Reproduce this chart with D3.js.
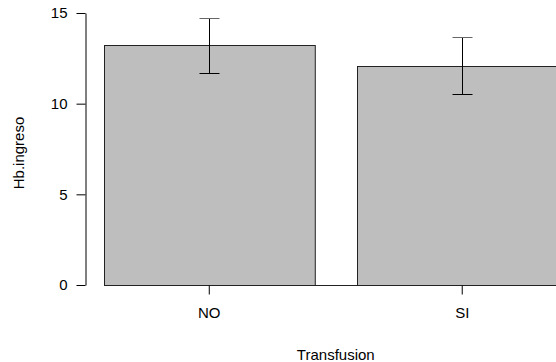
<!DOCTYPE html>
<html>
<head>
<meta charset="utf-8">
<script src="https://cdn.jsdelivr.net/npm/d3@7"></script>
<style>
  html, body { margin: 0; padding: 0; background: #fff; }
  svg { display: block; }
  text { font-family: "Liberation Sans", Arial, Helvetica, sans-serif; fill: #000; }
</style>
</head>
<body>
<svg id="chart" width="556" height="362"></svg>
<script>
// Mean Hb at admission by transfusion group, with error bars
const categories = ["NO", "SI"];
const means = [13.22, 12.10];
const lower = [11.69, 10.52];
const upper = [14.74, 13.70];
const yTicks = [0, 5, 10, 15];
const xTitle = "Transfusion";
const yTitle = "Hb.ingreso";

const W = 556, H = 362;
const plot = { left: 85.5, right: 586, top: 13, bottom: 285 };
const fontSize = 15;

const svg = d3.select("#chart");

const x = d3.scaleBand()
  .domain(categories)
  .range([plot.left, plot.right])
  .paddingInner(0.1667)
  .paddingOuter(0.0727);

const y = d3.scaleLinear()
  .domain([0, 15])
  .range([plot.bottom, plot.top]);

const data = categories.map((c, i) => ({ cat: c, mean: means[i], lo: lower[i], hi: upper[i] }));

// bars
svg.append("g")
  .selectAll("rect")
  .data(data)
  .join("rect")
  .attr("x", d => Math.round(x(d.cat)) + 0.5)
  .attr("y", d => Math.round(y(d.mean)) + 0.5)
  .attr("width", x.bandwidth())
  .attr("height", d => Math.round(y(0)) - Math.round(y(d.mean)))
  .attr("fill", "#bebebe")
  .attr("stroke", "#222")
  .attr("stroke-width", 1);

// baseline under the bars
svg.append("line")
  .attr("x1", Math.round(x(categories[0])) + 0.5)
  .attr("x2", plot.right)
  .attr("y1", Math.round(y(0)) + 0.5)
  .attr("y2", Math.round(y(0)) + 0.5)
  .attr("stroke", "#222");

// error bars
const eb = svg.append("g").attr("stroke", "#000").attr("stroke-width", 1);
data.forEach(d => {
  const cx = Math.round(x(d.cat) + x.bandwidth() / 2) + 0.5;
  const yHi = Math.round(y(d.hi)) + 0.5;
  const yLo = Math.round(y(d.lo)) + 0.5;
  eb.append("line").attr("x1", cx).attr("x2", cx).attr("y1", yHi).attr("y2", yLo);
  eb.append("line").attr("x1", cx - 10).attr("x2", cx + 10).attr("y1", yHi).attr("y2", yHi).attr("stroke", "#666");
  eb.append("line").attr("x1", cx - 10).attr("x2", cx + 10).attr("y1", yLo).attr("y2", yLo);
});

// y axis
const yAxis = d3.axisLeft(y).tickValues(yTicks).tickSize(9).tickPadding(9).tickFormat(d3.format("d"));
const gy = svg.append("g")
  .attr("transform", `translate(${plot.left},0)`)
  .call(yAxis);
gy.select(".domain").attr("d", `M0.5,${Math.round(y(15)) + 0.5}V${Math.round(y(0)) + 0.5}`).attr("stroke", "#000");
gy.selectAll(".tick line").attr("stroke", "#000");
gy.selectAll(".tick text").attr("font-size", fontSize).attr("font-family", "Liberation Sans, Arial, sans-serif");

// x axis (ticks only, no domain line)
const xAxis = d3.axisBottom(x).tickSize(9).tickPadding(13);
const gx = svg.append("g")
  .attr("transform", `translate(0,${plot.bottom + 0.5})`)
  .call(xAxis);
gx.select(".domain").remove();
gx.selectAll(".tick line").attr("stroke", "#000");
gx.selectAll(".tick text").attr("font-size", fontSize).attr("font-family", "Liberation Sans, Arial, sans-serif");

// axis titles
svg.append("text")
  .attr("x", (plot.left + plot.right) / 2)
  .attr("y", 360)
  .attr("text-anchor", "middle")
  .attr("font-size", fontSize)
  .text(xTitle);

svg.append("text")
  .attr("transform", `translate(23.5,${(plot.top + plot.bottom) / 2 + 4}) rotate(-90)`)
  .attr("text-anchor", "middle")
  .attr("font-size", fontSize)
  .text(yTitle);
</script>
</body>
</html>
